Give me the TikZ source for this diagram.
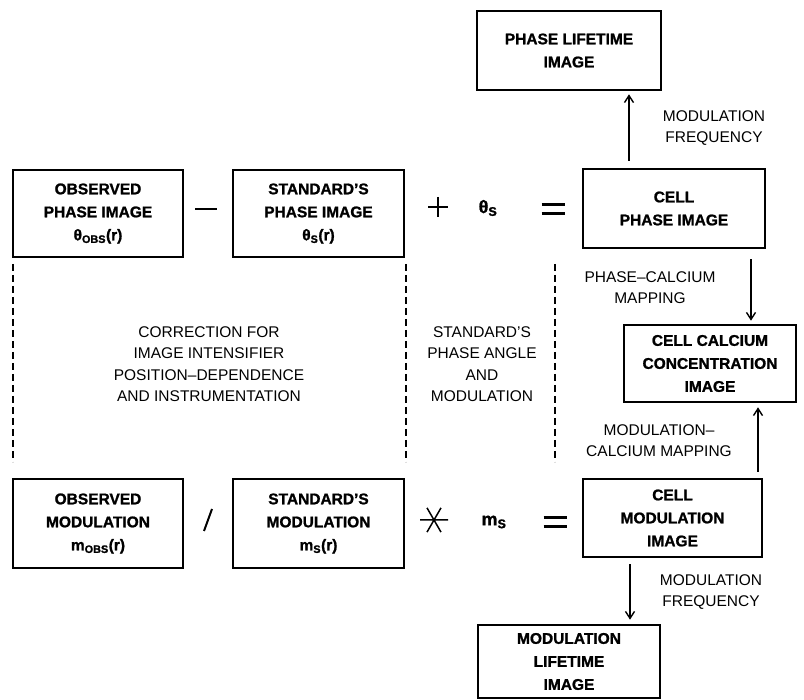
\documentclass[tikz,border=0pt]{standalone}
\usepackage{fontspec}
\setmainfont{Liberation Sans}[BoldFeatures={FakeBold=1.2}]
\usetikzlibrary{arrows.meta,calc}
\begin{document}
\begin{tikzpicture}[x=1pt,y=-1pt,
 box/.style={draw, line width=2.6pt, align=center, inner sep=0pt, font=\fontsize{15.5}{23}\selectfont\bfseries},
 lbl/.style={align=center, inner sep=0pt, font=\fontsize{15.5}{21}\selectfont},
 arr/.style={line width=1.4pt, -{Straight Barb[length=7pt,width=9pt,line width=1.4pt]}},
 dline/.style={line width=1.3pt, dash pattern=on 7pt off 4pt},
 opthick/.style={line width=2.6pt},
 opthin/.style={line width=1.5pt},
 sym/.style={inner sep=0pt, font=\fontsize{18}{20}\selectfont\bfseries},
]
\fill[white] (0,0) rectangle (804,700);
\useasboundingbox (0,0) rectangle (804,700);

% boxes
\node[box, minimum width=184, minimum height=79] (plt) at (569,50.5) {PHASE LIFETIME\\IMAGE};
\node[box, minimum width=170, minimum height=87] (obsph) at (98,213.5) {OBSERVED\\PHASE IMAGE\\θ\textsubscript{OBS}(r)};
\node[box, minimum width=171, minimum height=87] (stdph) at (318.5,213.5) {STANDARD'S\\PHASE IMAGE\\θ\textsubscript{S}(r)};
\node[box, minimum width=182, minimum height=79] (cellph) at (674,208.5) {CELL\\PHASE IMAGE};
\node[box, minimum width=172, minimum height=77] (calc) at (710,363.5) {CELL CALCIUM\\CONCENTRATION\\IMAGE};
\node[box, minimum width=170, minimum height=89] (obsmod) at (98,523.5) {OBSERVED\\MODULATION\\m\textsubscript{OBS}(r)};
\node[box, minimum width=171, minimum height=89] (stdmod) at (318.5,523.5) {STANDARD'S\\MODULATION\\m\textsubscript{S}(r)};
\node[box, minimum width=179, minimum height=78] (cellmod) at (672.5,518) {CELL\\MODULATION\\IMAGE};
\node[box, minimum width=182, minimum height=73] (mlt) at (569,661.5) {MODULATION\\LIFETIME\\IMAGE};

% arrows
\draw[arr, shorten <=7pt, shorten >=3pt] ([xshift=-45pt]cellph.north) -- ([xshift=-45pt]cellph.north |- plt.south);
\draw[arr, shorten <=10pt, shorten >=3pt] ([xshift=41pt]calc.north |- cellph.south) -- ([xshift=41pt]calc.north);
\draw[arr, shorten <=6pt, shorten >=4pt] ([xshift=48pt]calc.south |- cellmod.north) -- ([xshift=48pt]calc.south);
\draw[arr, shorten <=6pt, shorten >=4pt] ([xshift=61pt]mlt.north |- cellmod.south) -- ([xshift=61pt]mlt.north);

% arrow labels
\node[lbl] (lf1) at (714,128) {MODULATION\\FREQUENCY};
\node[lbl] (lpc) at (650,288) {PHASE–CALCIUM\\MAPPING};
\node[lbl] (lmc) at (659,441) {MODULATION–\\CALCIUM MAPPING};
\node[lbl] (lf2) at (711,592) {MODULATION\\FREQUENCY};

% dashed separators
\coordinate (d1a) at (13,264); \coordinate (d1b) at (13,462);
\coordinate (d2a) at (406,264); \coordinate (d2b) at (406,462);
\coordinate (d3a) at (555,264); \coordinate (d3b) at (555,462);
\draw[dline] (d1a) -- (d1b);
\draw[dline] (d2a) -- (d2b);
\draw[dline] (d3a) -- (d3b);

\node[lbl, font=\fontsize{15.5}{21.5}\selectfont] (corr) at (209,364) {CORRECTION FOR\\IMAGE INTENSIFIER\\POSITION–DEPENDENCE\\AND INSTRUMENTATION};
\node[lbl, font=\fontsize{15.5}{21.5}\selectfont] (stdtxt) at (482,364) {STANDARD'S\\PHASE ANGLE\\AND\\MODULATION};

% operators, top row
\coordinate (minus) at (206,209);
\draw[opthick] ($(minus)+(-11,0)$) -- ($(minus)+(11,0)$);
\coordinate (plus) at (438,207);
\draw[opthin] ($(plus)+(-10,0)$) -- ($(plus)+(10,0)$) ($(plus)+(0,-10)$) -- ($(plus)+(0,10)$);
\node[sym] (ths) at (488,208) {θ\textsubscript{S}};
\coordinate (eq1) at (553,209);
\draw[opthick] ($(eq1)+(-11.5,-4.5)$) -- ($(eq1)+(11.5,-4.5)$) ($(eq1)+(-11.5,4.5)$) -- ($(eq1)+(11.5,4.5)$);

% operators, bottom row
\coordinate (slash) at (208,520);
\draw[line width=2pt] ($(slash)+(-4,11)$) -- ($(slash)+(4,-11)$);
\coordinate (ast) at (434,520);
\draw[opthin] ($(ast)+(-14,0)$) -- ($(ast)+(14,0)$)
  ([shift={(60:14)}]ast) -- ([shift={(240:14)}]ast)
  ([shift={(120:14)}]ast) -- ([shift={(300:14)}]ast);
\node[sym] (ms) at (494,522) {m\textsubscript{S}};
\coordinate (eq2) at (555,522);
\draw[opthick] ($(eq2)+(-11.5,-4.5)$) -- ($(eq2)+(11.5,-4.5)$) ($(eq2)+(-11.5,4.5)$) -- ($(eq2)+(11.5,4.5)$);
\end{tikzpicture}
\end{document}
